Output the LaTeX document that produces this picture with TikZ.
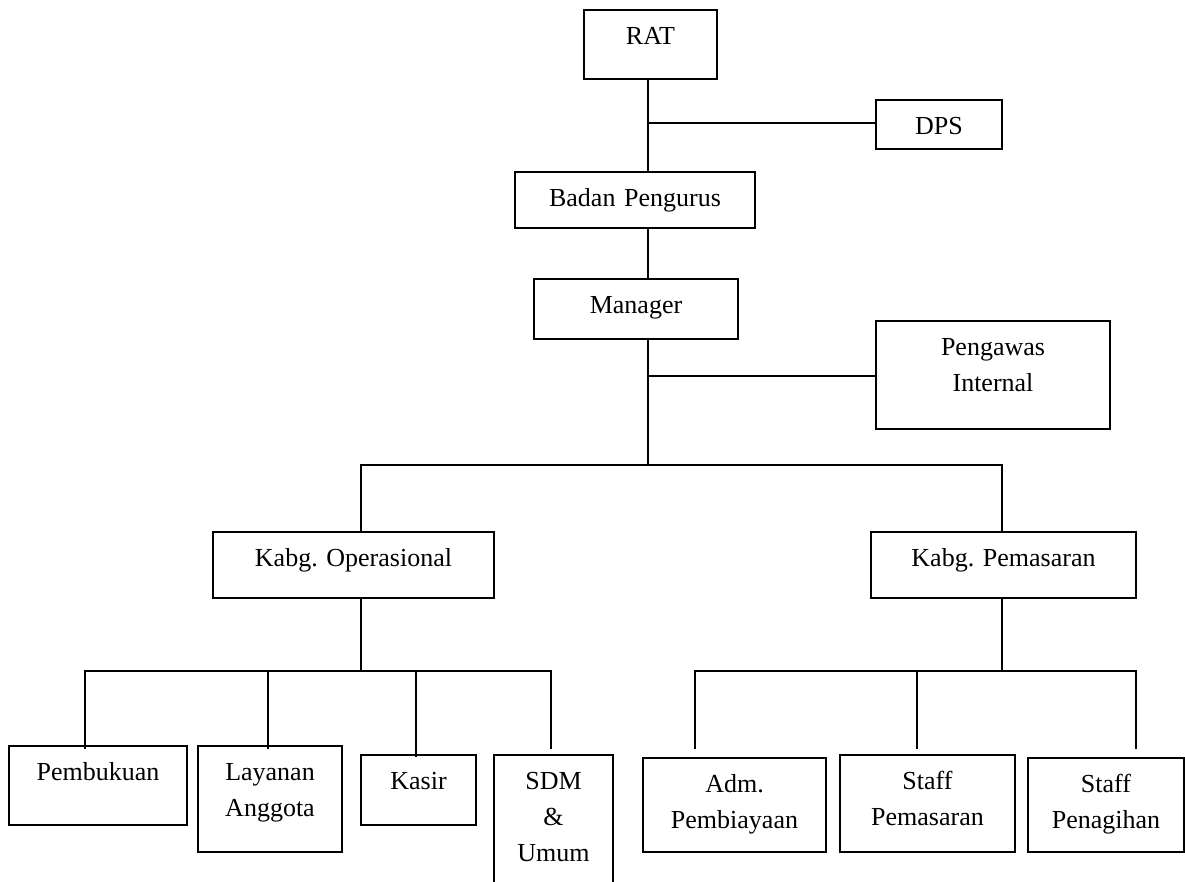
\documentclass[tikz,border=0pt]{standalone}
\usepackage{fontspec}
\setmainfont{Liberation Serif}
\usepackage{tikz}
\usetikzlibrary{positioning, calc}
\frenchspacing
\tikzset{
  orgbox/.style={rectangle, draw=black, line width=1.8pt, anchor=north,
    inner sep=0pt, text height=35pt, align=center,
    font=\fontsize{26}{36}\selectfont},
  line/.style={line width=1.8pt, color=black}
}

\begin{document}
\begin{tikzpicture}[x=1pt, y=-1pt]
  \useasboundingbox (0,0) rectangle (1185,881);

  % Top of the chart
  \node[orgbox, text width=133pt, text depth=34pt] (rat) at (650.5,9) {RAT};
  \node[orgbox, text width=126pt, text depth=14pt] (dps) at (939,99) {DPS};
  \node[orgbox, text width=240pt, text depth=21pt] (badan) at (635,171) {Badan Pengurus};
  \node[orgbox, text width=204pt, text depth=25pt] (manager) at (636,278) {Manager};
  \node[orgbox, text width=234pt, text depth=73pt] (pengawas) at (993,320) {Pengawas\\Internal};

  % Heads of division
  \node[orgbox, text width=281pt, text depth=31pt] (kabgop) at (353.5,531) {Kabg. Operasional};
  \node[orgbox, text width=265pt, text depth=31pt] (kabgpem) at (1003.5,531) {Kabg. Pemasaran};

  % Staff under operasional
  \node[orgbox, text width=178pt, text depth=44pt] (pembukuan) at (98,745) {Pembukuan};
  \node[orgbox, text width=144pt, text depth=71pt] (layanan) at (270,745) {Layanan\\Anggota};
  \node[orgbox, text width=115pt, text depth=35pt] (kasir) at (418.5,754) {Kasir};
  \node[orgbox, text width=119pt, text depth=165pt] (sdm) at (553.5,754) {SDM\\\&\\Umum};

  % Staff under pemasaran
  \node[orgbox, text width=183pt, text depth=59pt] (adm) at (734.5,757) {Adm.\\Pembiayaan};
  \node[orgbox, text width=175pt, text depth=62pt] (stpem) at (927.5,754) {Staff\\Pemasaran};
  \node[orgbox, text width=156pt, text depth=59pt] (stpen) at (1106,757) {Staff\\Penagihan};

  % Junction points
  \coordinate (jdps) at (648,123);
  \coordinate (jpi) at (648,376);
  \coordinate (jmgr) at (648,465);
  \coordinate (jop) at (361,465);
  \coordinate (jpm) at (1002,465);
  \coordinate (opbus) at (361,671);
  \coordinate (pmbus) at (1002,671);
  \coordinate (dpbk) at (85,749);
  \coordinate (dlyn) at (268,749);
  \coordinate (dksr) at (416,757);
  \coordinate (dsdm) at (551,749);
  \coordinate (dadm) at (695,749);
  \coordinate (dstp) at (917,749);
  \coordinate (dstn) at (1136,749);

  % Connectors
  \draw[line] (rat.south -| jdps) -- (badan.north -| jdps);
  \draw[line] (jdps) -- (jdps -| dps.west);
  \draw[line] (badan.south -| jdps) -- (manager.north -| jdps);
  \draw[line] (manager.south -| jdps) -- (jmgr);
  \draw[line] (jpi) -- (jpi -| pengawas.west);
  \draw[line] (kabgop.north -| jop) -- (jop) -- (jpm) -- (kabgpem.north -| jpm);

  \draw[line] (kabgop.south -| opbus) -- (opbus);
  \draw[line] (dpbk) -- (opbus -| dpbk) -- (opbus -| dsdm) -- (dsdm);
  \draw[line] (opbus -| dlyn) -- (dlyn);
  \draw[line] (opbus -| dksr) -- (dksr);

  \draw[line] (kabgpem.south -| pmbus) -- (pmbus);
  \draw[line] (dadm) -- (pmbus -| dadm) -- (pmbus -| dstn) -- (dstn);
  \draw[line] (pmbus -| dstp) -- (dstp);
\end{tikzpicture}
\end{document}
